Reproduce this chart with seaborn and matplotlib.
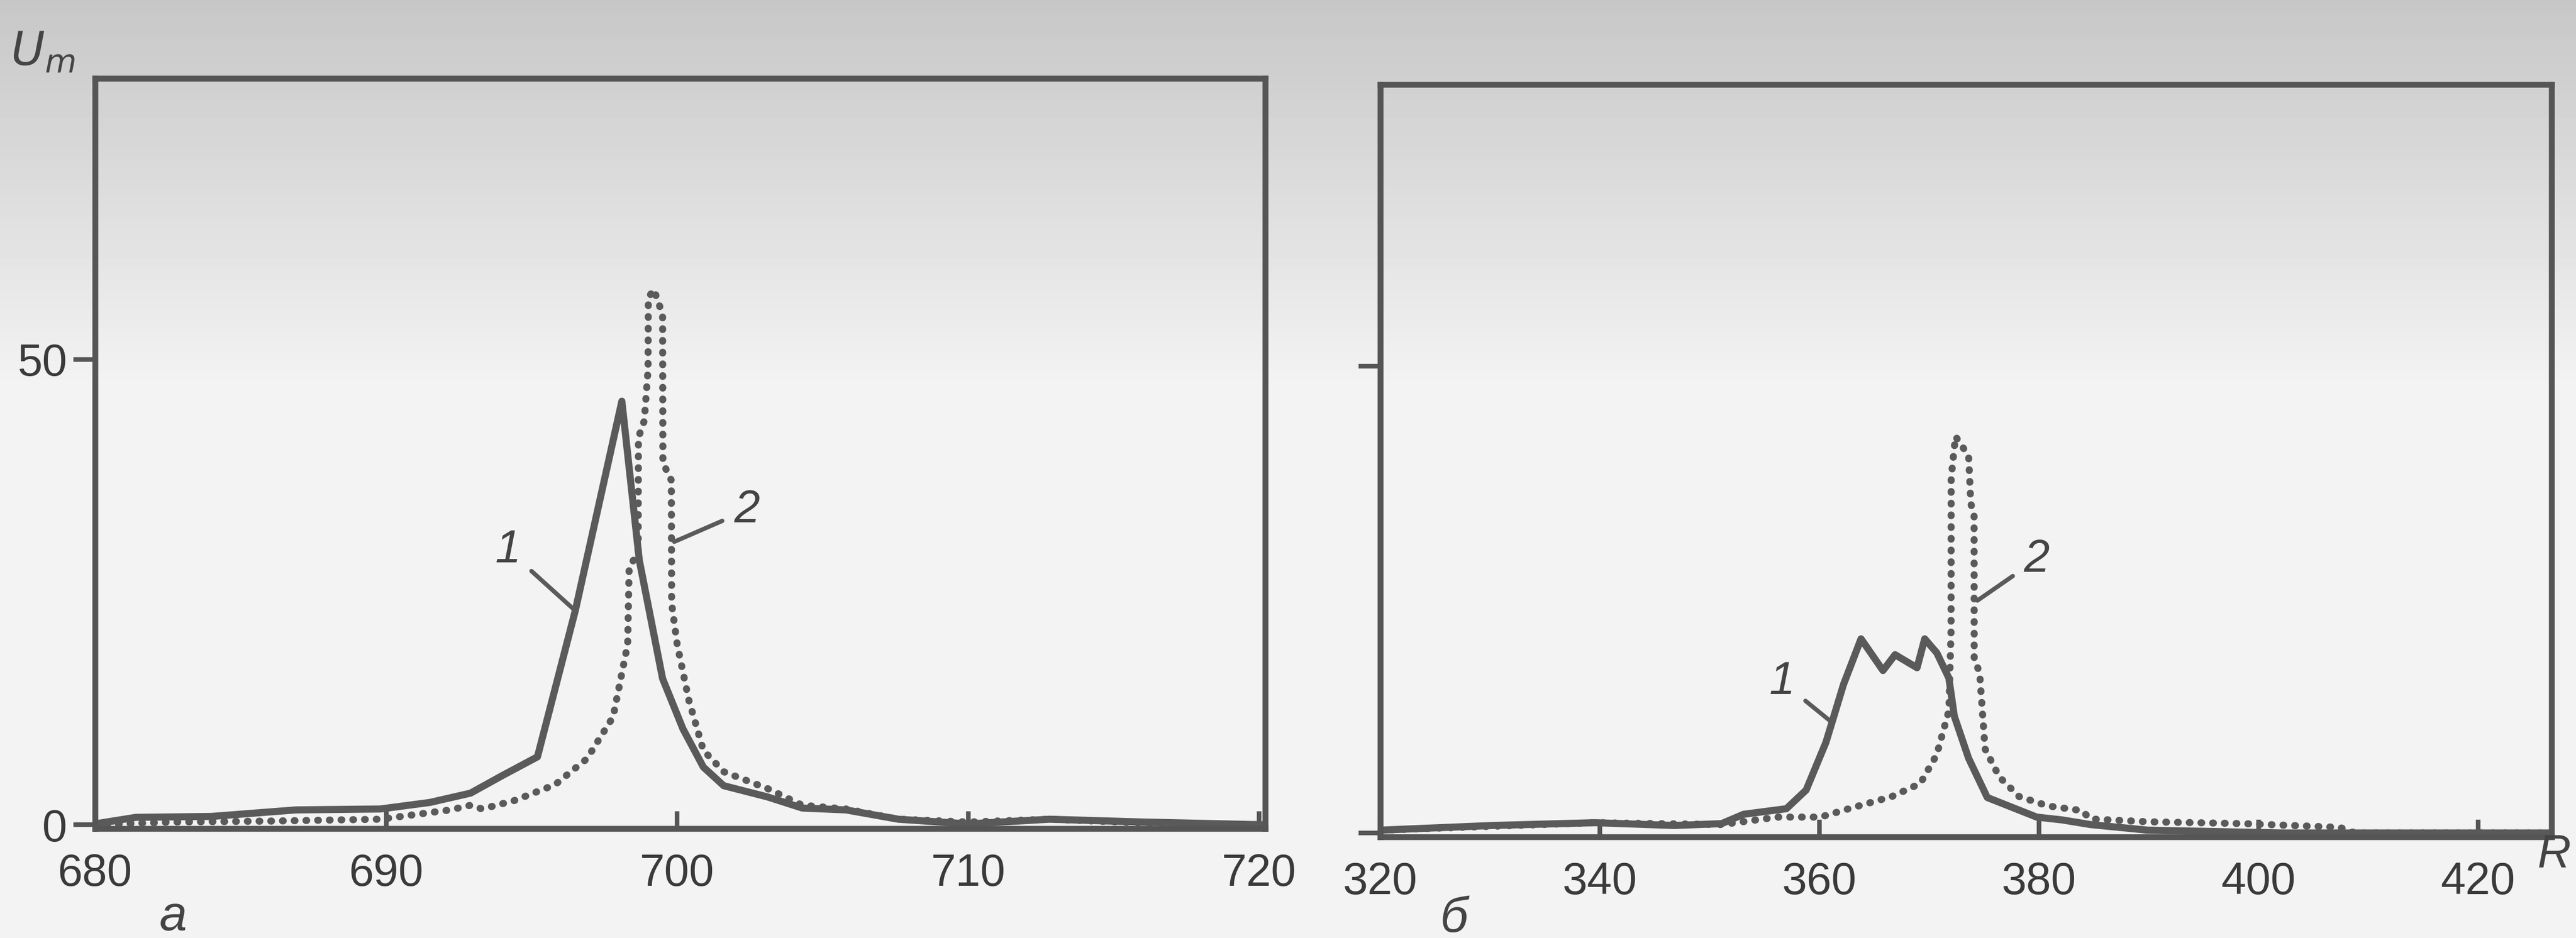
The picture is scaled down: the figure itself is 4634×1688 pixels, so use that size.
import numpy as np
import pandas as pd
import seaborn as sns
import matplotlib.pyplot as plt

# panel a: R from 680 to 720
a_x1 = [680.0, 681.4, 684.0, 686.9, 689.8, 691.5, 692.9, 694.0, 695.2, 696.5, 698.1,
        698.7, 699.5, 700.2, 700.9, 701.6, 703.1, 704.3, 705.8, 707.6, 710.0, 712.8, 716.0, 720.2]
a_y1 = [0.1, 0.8, 0.9, 1.6, 1.7, 2.4, 3.4, 5.3, 7.3, 23.0, 45.5,
        28.4, 15.7, 10.3, 6.2, 4.2, 3.0, 1.8, 1.6, 0.6, 0.1, 0.6, 0.3, 0.0]
a_x2 = [680.0, 682.6, 686.0, 689.8, 692.2, 692.9, 693.3, 694.4, 695.8, 696.9, 697.8, 698.3,
        698.35, 698.66, 698.67, 698.87, 699.0, 699.01, 699.2, 699.5, 699.51, 699.8, 699.81,
        700.0, 700.4, 700.9, 701.6, 703.1, 704.3, 705.8, 707.6, 710.0, 712.8, 716.0, 720.2]
a_y2 = [0.0, 0.3, 0.4, 0.6, 1.6, 2.1, 1.7, 2.6, 4.3, 7.1, 11.6, 19.4,
        27.6, 29.3, 41.6, 43.4, 48.9, 56.6, 57.5, 54.8, 38.9, 37.0, 23.8,
        19.4, 13.4, 8.0, 5.7, 3.9, 2.1, 1.7, 0.6, 0.3, 0.6, 0.2, 0.0]

# panel б: R from 320 to ~427
b_x1 = [320.0, 330.2, 339.6, 346.8, 351.1, 353.1, 357.0, 358.8, 360.6, 362.2, 363.8,
        365.8, 366.9, 368.9, 369.6, 370.7, 371.8, 372.3, 373.6, 375.3, 379.8, 382.1,
        384.7, 389.9, 402.3, 426.7]
b_y1 = [0.3, 0.8, 1.1, 0.8, 1.0, 2.0, 2.6, 4.6, 9.7, 15.9, 20.8,
        17.4, 19.1, 17.7, 20.8, 19.3, 16.6, 12.5, 8.0, 3.8, 1.7, 1.4,
        0.9, 0.3, 0.0, 0.0]
b_x2 = [320.0, 339.6, 351.1, 356.2, 360.1, 362.7, 366.6, 369.2, 370.7, 371.8, 372.0,
        372.01, 372.4, 373.6, 373.8, 374.1, 374.11, 374.6, 375.1, 376.4, 378.2, 380.8,
        383.9, 384.7, 389.9, 398.7, 407.4, 408.8, 426.7]
b_y2 = [0.3, 1.1, 0.9, 1.7, 1.7, 2.6, 3.9, 5.3, 8.4, 13.1, 21.7,
        38.0, 42.5, 40.4, 35.3, 34.0, 18.6, 17.2, 9.0, 6.0, 3.9, 2.9,
        2.4, 1.5, 1.2, 1.0, 0.6, 0.0, 0.0]

a_ticks = [680, 690, 700, 710, 720]
b_ticks = [320, 340, 360, 380, 400, 420]

sns.set_theme(style="white")
plt.rcParams['font.family'] = ['Liberation Sans', 'DejaVu Sans']

ink = "#5a5a5a"
fig = plt.figure(figsize=(23.17, 8.44), dpi=200)

# scanned-paper background: greyer at the top, near white lower down
bg = fig.add_axes([0, 0, 1, 1], zorder=-10)
grad = np.clip(np.linspace(0.78, 1.2, 200), 0, 0.955)[:, None]
bg.imshow(grad, aspect="auto", cmap="gray", vmin=0, vmax=1, extent=[0, 1, 0, 1])
bg.axis("off")

ax1 = fig.add_axes([0.0369, 0.1167, 0.4542, 0.800])
ax2 = fig.add_axes([0.5358, 0.1080, 0.4547, 0.8020])

dot = dict(linestyle=(0, (0.1, 1.55)), dash_capstyle="round")

for ax, x1, y1, x2, y2 in [(ax1, a_x1, a_y1, a_x2, a_y2), (ax2, b_x1, b_y1, b_x2, b_y2)]:
    ax.set_facecolor("none")
    sns.lineplot(x=x1, y=y1, ax=ax, color=ink, lw=4.6, sort=False, estimator=None)
    sns.lineplot(x=x2, y=y2, ax=ax, color=ink, lw=4.6, sort=False, estimator=None, **dot)
    ax.set_ylim(-0.4, 80.2)
    ax.set_yticks([0, 50])
    for s in ax.spines.values():
        s.set_color("#555555")
        s.set_linewidth(3.8)
    ax.tick_params(axis="x", direction="in", length=11, width=3, color="#555555",
                   labelsize=29, labelcolor="#3a3a3a", pad=16, bottom=True)
    ax.tick_params(axis="y", direction="out", length=14, width=3, color="#555555",
                   labelsize=29, labelcolor="#3a3a3a", pad=4, left=True)
    ax.grid(False)

ax1.set_xlim(680, 720.2)
ax1.set_xticks(a_ticks)
ax1.set_yticklabels(["0", "50"])
ax2.set_xlim(320, 426.7)
ax2.set_xticks(b_ticks)
ax2.set_yticklabels(["", ""])

# curve labels with leader lines
lab = dict(fontsize=30, style="italic", color="#444444", ha="center", va="center")
lead = dict(arrowstyle="-", color=ink, lw=2.8, shrinkA=6, shrinkB=0)
ax1.annotate("1", xy=(696.5, 23.0), xytext=(694.2, 29.5), arrowprops=lead, **lab)
ax1.annotate("2", xy=(699.9, 30.4), xytext=(702.4, 33.8), arrowprops=lead, **lab)
ax2.annotate("1", xy=(361.2, 11.8), xytext=(356.6, 16.2), arrowprops=lead, **lab)
ax2.annotate("2", xy=(374.4, 24.9), xytext=(379.8, 29.3), arrowprops=lead, **lab)

fig.text(0.004, 0.944, r"$U_m$", fontsize=30, color="#444444", va="center")
fig.text(0.985, 0.088, "R", fontsize=30, style="italic", color="#444444", va="center")
fig.text(0.062, 0.022, "а", fontsize=32, style="italic", color="#444444", va="center")
fig.text(0.559, 0.020, "б", fontsize=32, style="italic", color="#444444", va="center")

fig.savefig("out.png", dpi=200, facecolor=fig.get_facecolor())
